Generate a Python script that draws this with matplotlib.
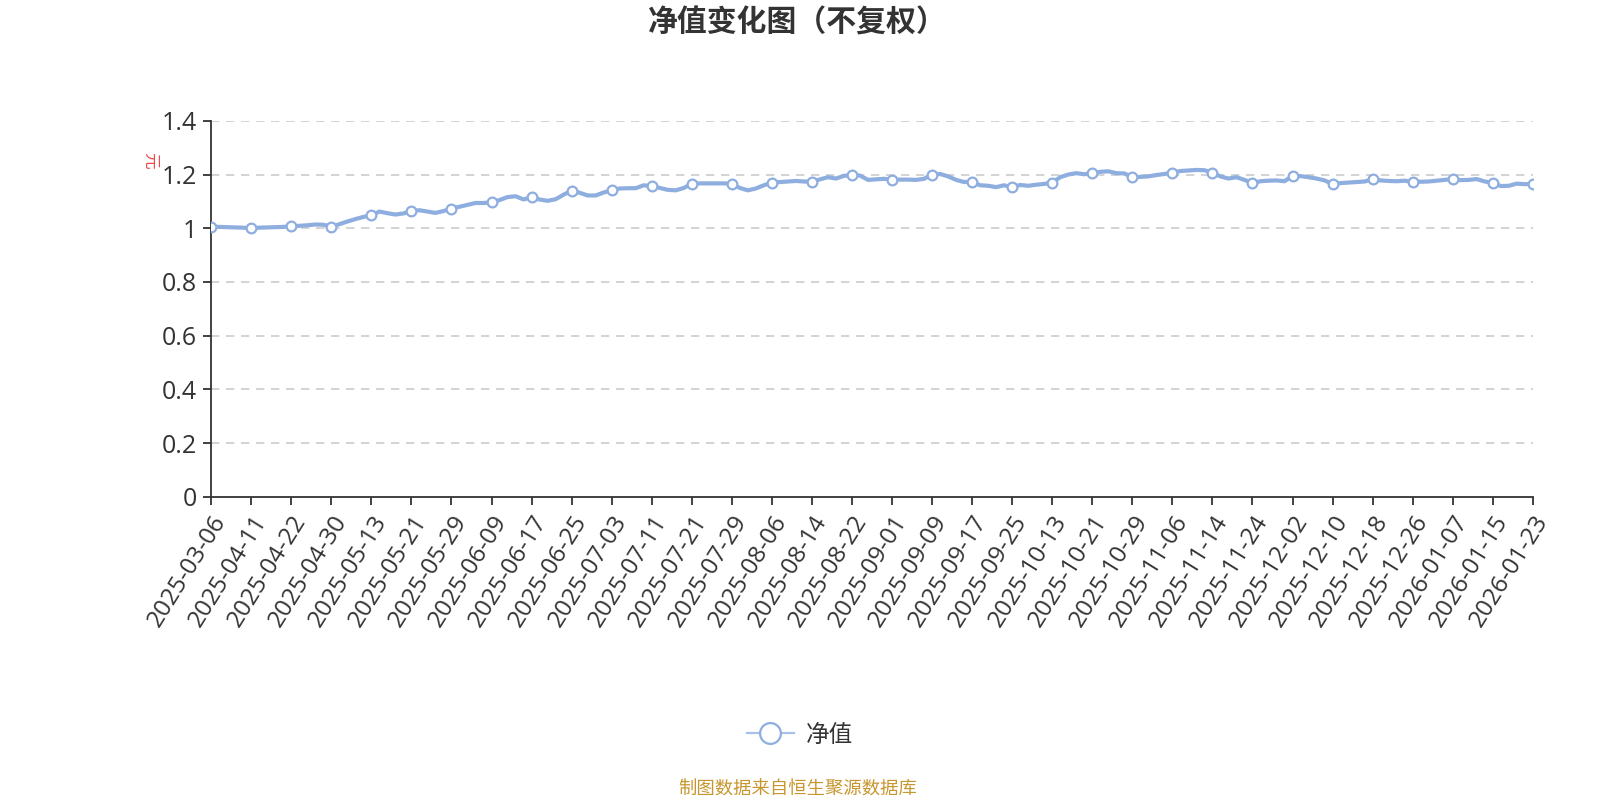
import matplotlib.pyplot as plt
import numpy as np
from matplotlib.lines import Line2D

plt.rcParams['font.family'] = ['Noto Sans CJK SC', 'DejaVu Sans']

# tick dates (one marker every 5 points)
dates = ['2025-03-06', '2025-04-11', '2025-04-22', '2025-04-30', '2025-05-13',
         '2025-05-21', '2025-05-29', '2025-06-09', '2025-06-17', '2025-06-25',
         '2025-07-03', '2025-07-11', '2025-07-21', '2025-07-29', '2025-08-06',
         '2025-08-14', '2025-08-22', '2025-09-01', '2025-09-09', '2025-09-17',
         '2025-09-25', '2025-10-13', '2025-10-21', '2025-10-29', '2025-11-06',
         '2025-11-14', '2025-11-24', '2025-12-02', '2025-12-10', '2025-12-18',
         '2025-12-26', '2026-01-07', '2026-01-15', '2026-01-23']

nav = [
    1.005, 1.005, 1.004, 1.003, 1.002,
    1.000, 1.002, 1.003, 1.004, 1.005,
    1.007, 1.009, 1.011, 1.014, 1.013,
    1.006, 1.015, 1.025, 1.034, 1.042,
    1.048, 1.062, 1.056, 1.051, 1.055,
    1.064, 1.067, 1.062, 1.057, 1.064,
    1.073, 1.080, 1.087, 1.094, 1.094,
    1.096, 1.105, 1.116, 1.119, 1.107,
    1.116, 1.107, 1.102, 1.108, 1.125,
    1.140, 1.132, 1.122, 1.122, 1.133,
    1.141, 1.148, 1.149, 1.149, 1.160,
    1.156, 1.150, 1.143, 1.141, 1.150,
    1.165, 1.167, 1.167, 1.167, 1.167,
    1.165, 1.150, 1.141, 1.148, 1.160,
    1.170, 1.172, 1.174, 1.176, 1.174,
    1.173, 1.182, 1.190, 1.185, 1.195,
    1.198, 1.196, 1.180, 1.182, 1.184,
    1.180, 1.181, 1.181, 1.180, 1.184,
    1.200, 1.202, 1.193, 1.180, 1.172,
    1.173, 1.160, 1.158, 1.153, 1.160,
    1.152, 1.161, 1.158, 1.162, 1.165,
    1.170, 1.190, 1.200, 1.205, 1.201,
    1.205, 1.210, 1.212, 1.205, 1.204,
    1.190, 1.191, 1.193, 1.198, 1.202,
    1.207, 1.213, 1.215, 1.217, 1.216,
    1.207, 1.193, 1.185, 1.190, 1.180,
    1.168, 1.175, 1.177, 1.178, 1.175,
    1.195, 1.194, 1.190, 1.185, 1.178,
    1.165, 1.168, 1.170, 1.172, 1.174,
    1.183, 1.178, 1.176, 1.175, 1.177,
    1.173, 1.173, 1.174, 1.177, 1.180,
    1.183, 1.179, 1.180, 1.183, 1.174,
    1.169, 1.157, 1.158, 1.166, 1.164,
    1.165,
]

y_ticks = [0, 0.2, 0.4, 0.6, 0.8, 1.0, 1.2, 1.4]
y_labels = ['0', '0.2', '0.4', '0.6', '0.8', '1', '1.2', '1.4']

line_color = '#8eaee0'
text_color = '#333333'
num_font = ['Open Sans', 'DejaVu Sans']

fig = plt.figure(figsize=(16, 8), dpi=100)
ax = fig.add_axes([0.132, 0.379, 0.826, 0.470])

x = np.arange(len(nav))
step = 5
ax.plot(x, nav, color=line_color, lw=3.0, solid_joinstyle='round', zorder=3)
ax.plot(x[::step], nav[::step], ls='none', marker='o', ms=7, mfc='white',
        mec=line_color, mew=1.6, zorder=4)

ax.set_xlim(0, len(nav) - 1)
ax.set_ylim(0, 1.4)
ax.set_xticks(x[::step])
ax.set_xticklabels(dates, rotation=58, ha='right', rotation_mode='anchor',
                   fontsize=17.5, color=text_color, family=num_font)
ax.set_yticks(y_ticks)
ax.set_yticklabels(y_labels, fontsize=18, color=text_color, family=num_font)

for v in y_ticks[1:]:
    ax.axhline(v, color='#cccccc', lw=1.2, ls=(0, (5, 4)), zorder=1)

for s in ['top', 'right']:
    ax.spines[s].set_visible(False)
for s in ['left', 'bottom']:
    ax.spines[s].set_color(text_color)
    ax.spines[s].set_linewidth(1.3)
ax.tick_params(axis='both', length=6, width=1.3, color=text_color, pad=4)

fig.text(0.094, 0.80, '元', color='#f04848', fontsize=12, rotation=-90,
         ha='center', va='center')

fig.text(0.4985, 0.972, '净值变化图（不复权）', ha='center', va='center',
         fontsize=21.5, fontweight='bold', color=text_color)

handle = Line2D([], [], color='#a9c0e8', lw=1.6, marker='o', ms=15,
                mfc='white', mec=line_color, mew=1.6)
fig.legend([handle], ['净值'], loc='center', bbox_to_anchor=(0.5, 0.081),
           frameon=False, fontsize=17, handlelength=2.0, handletextpad=0.5,
           labelcolor=text_color)

fig.text(0.4985, 0.013, '制图数据来自恒生聚源数据库', ha='center', va='center',
         fontsize=13.2, color='#c8962e')

fig.savefig('out.png')
